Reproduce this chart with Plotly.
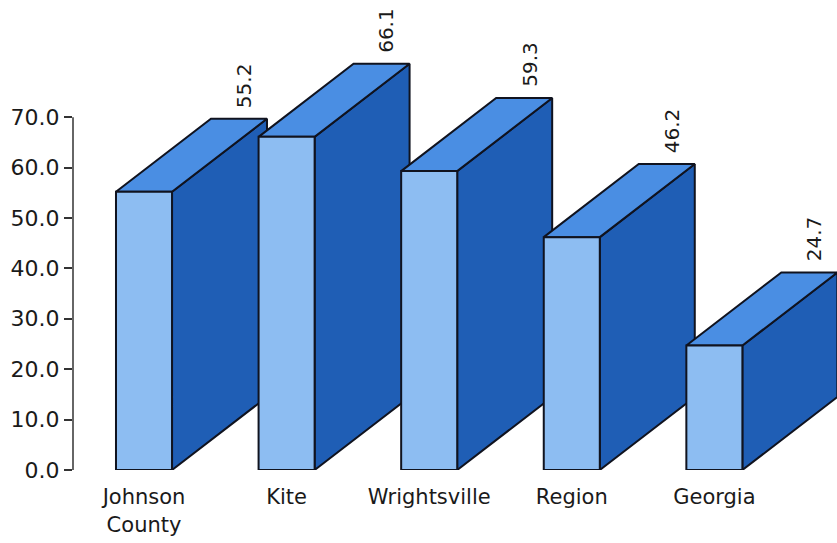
import plotly.graph_objects as go

# Data
categories = ["Johnson<br>County", "Kite", "Wrightsville", "Region", "Georgia"]
values = [55.2, 66.1, 59.3, 46.2, 24.7]
y_ticks = [0, 10, 20, 30, 40, 50, 60, 70]

# Box geometry in axis units
FRONT_W = 0.393      # width of the front face
DEPTH_X = 0.666      # oblique depth, horizontal
DEPTH_Y = 14.5       # oblique depth, vertical

FRONT_COLOR = "#8dbdf2"
TOP_COLOR = "#4a8ee3"
SIDE_COLOR = "#1f5eb5"
EDGE_COLOR = "#10131f"

fig = go.Figure()


def face(xs, ys, color):
    fig.add_trace(go.Scatter(
        x=xs + [xs[0]], y=ys + [ys[0]],
        mode="lines", fill="toself", fillcolor=color,
        line=dict(color=EDGE_COLOR, width=2),
        hoverinfo="skip", showlegend=False,
    ))


for i, v in enumerate(values):
    x0 = i - FRONT_W / 2
    x1 = i + FRONT_W / 2
    # right side face
    face([x1, x1 + DEPTH_X, x1 + DEPTH_X, x1], [0, DEPTH_Y, v + DEPTH_Y, v], SIDE_COLOR)
    # top face
    face([x0, x0 + DEPTH_X, x1 + DEPTH_X, x1], [v, v + DEPTH_Y, v + DEPTH_Y, v], TOP_COLOR)
    # front face
    face([x0, x1, x1, x0], [0, 0, v, v], FRONT_COLOR)

annotations = []
for i, v in enumerate(values):
    annotations.append(dict(
        x=i + DEPTH_X, y=v + DEPTH_Y, xref="x", yref="y",
        text=f"{v:.1f}", textangle=-90, showarrow=False,
        xanchor="center", yanchor="bottom", xshift=5, yshift=9,
        font=dict(family="DejaVu Sans", size=20, color="#1a1a1a"),
    ))

fig.update_layout(
    width=837, height=543,
    margin=dict(l=73, r=0, t=0, b=73),
    paper_bgcolor="white", plot_bgcolor="white",
    annotations=annotations,
    shapes=[dict(type="line", xref="paper", yref="y", x0=0, x1=0, y0=0, y1=70,
                 line=dict(color="#333333", width=1.5))],
    xaxis=dict(
        range=[-0.498, 4.86], showgrid=False, zeroline=False, showline=False,
        tickvals=list(range(len(categories))), ticktext=categories,
        ticks="outside", ticklen=8, tickcolor="rgba(0,0,0,0)",
        tickfont=dict(family="DejaVu Sans", size=21, color="#1a1a1a"),
    ),
    yaxis=dict(
        range=[0, 93.25], showgrid=False, zeroline=False, showline=False,
        tickvals=y_ticks, ticktext=[f"{t:.1f}" for t in y_ticks],
        ticks="outside", ticklen=8, tickwidth=1.5, tickcolor="#333333",
        tickfont=dict(family="DejaVu Sans", size=22, color="#1a1a1a"),
    ),
)

fig.write_html("out.html")
